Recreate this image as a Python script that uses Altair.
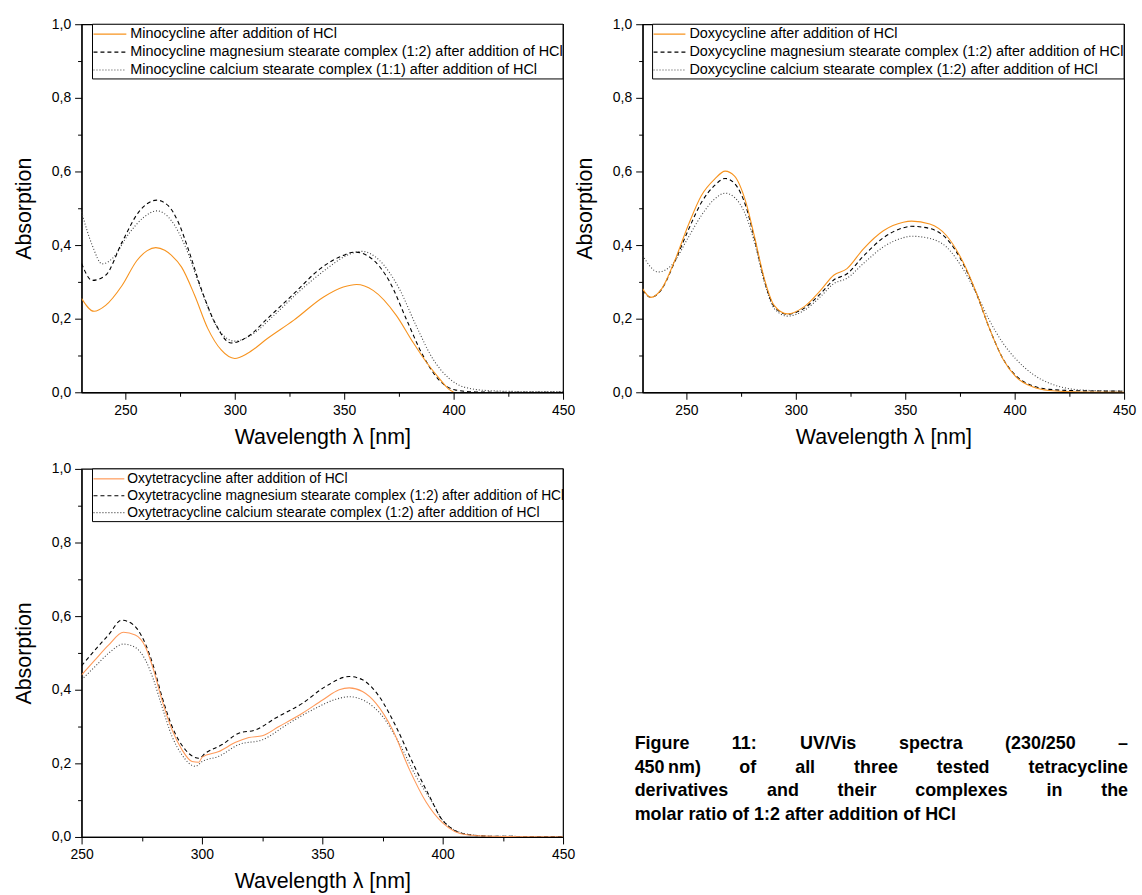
import altair as alt
import pandas as pd

FONT = "Liberation Sans"

# ---------------- data ----------------
# Panel 1: Minocycline
mino_hcl_wl = [230, 235.7, 241, 248.5, 255.3, 260, 263.9, 268, 271.1, 275.7, 281.7, 287.7, 293.8, 300,
               305.9, 314.9, 327, 340.6, 349.6, 355.7, 363.2, 373.8, 381.3, 387.4, 393.4, 397.9, 400]
mino_hcl = [0.255, 0.220, 0.236, 0.29, 0.358, 0.385, 0.393, 0.386, 0.372, 0.340, 0.263, 0.173, 0.115, 0.092,
            0.106, 0.146, 0.196, 0.259, 0.286, 0.293, 0.277, 0.209, 0.137, 0.083, 0.038, 0.008, 0.0]
mino_mg_wl = [230, 234.9, 241, 248.5, 256, 264.3, 269.6, 274.2, 278.7, 284.7, 290.8, 298.3, 305.9, 314.9,
              327, 339.1, 349.6, 354.9, 361.7, 370.8, 378.3, 385.9, 393.4, 401, 410, 425, 450]
mino_mg = [0.35, 0.304, 0.318, 0.408, 0.489, 0.522, 0.507, 0.462, 0.390, 0.281, 0.191, 0.134, 0.151, 0.200,
           0.268, 0.336, 0.372, 0.381, 0.367, 0.300, 0.200, 0.101, 0.033, 0.006, 0.001, 0.0, 0.0]
mino_ca_wl = [230, 234.9, 239.4, 244, 251.5, 258.3, 264.3, 271.1, 277.2, 284.7, 292.3, 300, 307.4, 317.9,
              330, 342.1, 351.2, 357.9, 366.2, 375.2, 382.8, 390.4, 397.9, 405.5, 417.6, 435, 450]
mino_ca = [0.49, 0.399, 0.349, 0.363, 0.430, 0.475, 0.493, 0.466, 0.399, 0.277, 0.173, 0.139, 0.155, 0.209,
           0.277, 0.336, 0.372, 0.383, 0.358, 0.281, 0.182, 0.092, 0.038, 0.013, 0.004, 0.002, 0.002]

# Panel 2: Doxycycline
doxy_wl = [230, 233.7, 238.7, 244.7, 250.8, 256.8, 262.9, 267.7, 271.9, 277.2, 281, 285.6, 290.1, 296.2,
           303.7, 311.3, 317.3, 323.4, 330.9, 340, 349.1, 352.9, 361.2, 368.8, 376.4, 382.4, 388.5, 394.5,
           400.6, 408.1, 415.7, 430.8, 450]
doxy_hcl = [0.281, 0.258, 0.281, 0.358, 0.453, 0.534, 0.579, 0.601, 0.588, 0.516, 0.426, 0.309, 0.236, 0.213,
            0.232, 0.277, 0.318, 0.336, 0.390, 0.439, 0.462, 0.465, 0.457, 0.426, 0.354, 0.272, 0.173, 0.092,
            0.042, 0.015, 0.005, 0.001, 0.0]
doxy_mg = [0.278, 0.258, 0.28, 0.355, 0.44, 0.515, 0.562, 0.581, 0.568, 0.505, 0.42, 0.305, 0.233, 0.212,
           0.228, 0.268, 0.305, 0.322, 0.37, 0.42, 0.447, 0.451, 0.445, 0.418, 0.35, 0.27, 0.173, 0.093,
           0.045, 0.018, 0.008, 0.004, 0.003]
doxy_ca_wl = [230, 237.1, 243.2, 250.8, 256.8, 262.9, 267.7, 271.9, 277.2, 281, 285.6, 290.1, 296.2, 303.7,
              311.3, 317.3, 323.4, 330.9, 340, 349.1, 352.9, 361.2, 368.8, 376.4, 382.4, 388.5, 394.5, 400.6,
              408.1, 415.7, 423, 430.8, 450]
doxy_ca = [0.372, 0.327, 0.345, 0.42, 0.48, 0.525, 0.541, 0.53, 0.48, 0.41, 0.3, 0.228, 0.207, 0.222,
           0.26, 0.295, 0.31, 0.35, 0.395, 0.42, 0.424, 0.418, 0.395, 0.335, 0.27, 0.195, 0.135, 0.09,
           0.05, 0.025, 0.012, 0.006, 0.003]

# Panel 3: Oxytetracycline
oxy_hcl_wl = [250, 255.6, 261.2, 267.4, 272.3, 276.5, 279.9, 283.4, 287.6, 291.7, 295.9, 298.7, 300.1, 307,
              314, 319.5, 325.1, 332, 341.7, 350.1, 357, 361.2, 366.7, 372.3, 379.2, 386.2, 393.1, 400, 405,
              410, 420, 450]
oxy_hcl = [0.44, 0.481, 0.521, 0.556, 0.549, 0.517, 0.454, 0.372, 0.291, 0.237, 0.205, 0.203, 0.217, 0.232,
           0.257, 0.270, 0.275, 0.300, 0.336, 0.372, 0.400, 0.405, 0.395, 0.363, 0.291, 0.183, 0.095, 0.038,
           0.015, 0.006, 0.002, 0.0]
oxy_mg_wl = [250, 255.6, 261.2, 266.7, 271.6, 275.8, 279.9, 283.4, 287.6, 293.1, 298.7, 301.5, 308.4, 315.3,
             322.3, 330.6, 341.7, 351.4, 361.2, 366.7, 373.7, 380.6, 387.6, 394.5, 400, 410, 420, 450]
oxy_mg = [0.465, 0.508, 0.549, 0.589, 0.576, 0.535, 0.463, 0.381, 0.300, 0.237, 0.214, 0.228, 0.251, 0.282,
          0.291, 0.323, 0.363, 0.409, 0.436, 0.427, 0.381, 0.300, 0.201, 0.111, 0.045, 0.007, 0.002, 0.001]
oxy_ca_wl = [250, 255.6, 261.2, 267.4, 272.3, 276.5, 279.9, 283.4, 287.6, 291.7, 297.3, 300.1, 307, 315.3,
             325.1, 336.2, 347.3, 355.6, 361.2, 368.1, 375.1, 382, 389, 395.9, 400, 410, 420, 450]
oxy_ca = [0.427, 0.463, 0.499, 0.524, 0.515, 0.481, 0.427, 0.354, 0.273, 0.223, 0.192, 0.205, 0.219, 0.251,
          0.264, 0.309, 0.350, 0.374, 0.381, 0.368, 0.327, 0.254, 0.164, 0.092, 0.045, 0.008, 0.002, 0.001]

mino_labels = ["Minocycline after addition of HCl",
               "Minocycline magnesium stearate complex (1:2) after addition of HCl",
               "Minocycline calcium stearate complex (1:1) after addition of HCl"]
doxy_labels = ["Doxycycline after addition of HCl",
               "Doxycycline magnesium stearate complex (1:2) after addition of HCl",
               "Doxycycline calcium stearate complex (1:2) after addition of HCl"]
oxy_labels = ["Oxytetracycline after addition of HCl",
              "Oxytetracycline magnesium stearate complex (1:2) after addition of HCl",
              "Oxytetracycline calcium stearate complex (1:2) after addition of HCl"]

x_ticks_a = [250, 275, 300, 325, 350, 375, 400, 425, 450]
y_ticks = [0.0, 0.1, 0.2, 0.3, 0.4, 0.5, 0.6, 0.7, 0.8, 0.9, 1.0]

caption_words = [
    ["Figure", "11:", "UV/Vis", "spectra", "(230/250", "–"],
    ["450\u2009nm)", "of", "all", "three", "tested", "tetracycline"],
    ["derivatives", "and", "their", "complexes", "in", "the"],
    ["molar", "ratio", "of", "1:2", "after", "addition", "of", "HCl"],
]

# ---------------- layout constants ----------------
W, H = 484, 370
ORANGE = "#F7931E"
ORANGE3 = "#FF9A5A"
DOT = "#444444"
one = pd.DataFrame({"k": [0]})


def panel(series, labels, xdomain, orange, leg_fs=14.5, leg_dy=18, leg_h=55, leg_x0=11,
          leg_line=(12, 45), leg_tx=49):
    x_axis = alt.Axis(
        values=x_ticks_a, title="Wavelength λ [nm]",
        labelExpr="datum.value % 50 == 0 ? datum.label : ''",
        tickSize={"condition": {"test": "datum.value % 50 != 0", "value": 4}, "value": 7},
        labelFlush=False, labelOverlap=False, labelPadding=4, titlePadding=9,
    )
    y_axis = alt.Axis(
        values=y_ticks, title="Absorption",
        labelExpr="round(datum.value*10) % 2 == 0 ? replace(format(datum.value, '.1f'), '.', ',') : ''",
        tickSize={"condition": {"test": "round(datum.value*10) % 2 == 1", "value": 4}, "value": 7},
        labelFlush=False, labelOverlap=False, labelPadding=4, titlePadding=16,
    )
    styles = [(orange, None), ("black", [4, 3]), (DOT, [1, 2])]

    def mk(chart_fn, col, dash, **kw):
        if dash is None:
            return chart_fn(color=col, **kw)
        return chart_fn(color=col, strokeDash=dash, **kw)

    layers = []
    for i in [2, 1, 0]:
        wl, vals = series[i]
        df = pd.DataFrame({"wl": wl, "A": vals})
        col, dash = styles[i]
        base = alt.Chart(df)
        layers.append(
            mk(base.mark_line, col, dash, strokeWidth=1.1, interpolate="monotone", clip=True).encode(
                x=alt.X("wl:Q", scale=alt.Scale(domain=xdomain, nice=False, zero=False), axis=x_axis),
                y=alt.Y("A:Q", scale=alt.Scale(domain=[0, 1], nice=False), axis=y_axis),
            )
        )
    # legend box
    layers.append(
        alt.Chart(one).mark_rect(fill="white", stroke="black", strokeWidth=1).encode(
            x=alt.value(leg_x0), x2=alt.value(W), y=alt.value(0), y2=alt.value(leg_h))
    )
    for i, lab in enumerate(labels):
        yy = 10 + leg_dy * i
        col, dash = styles[i]
        layers.append(
            mk(alt.Chart(one).mark_rule, col, dash, strokeWidth=1.2).encode(
                x=alt.value(leg_line[0]), x2=alt.value(leg_line[1]), y=alt.value(yy))
        )
        layers.append(
            alt.Chart(one).mark_text(align="left", baseline="middle", font=FONT, fontSize=leg_fs,
                                     color="black").encode(
                x=alt.value(leg_tx), y=alt.value(yy), text=alt.value(lab))
        )
    return alt.layer(*layers).properties(width=W, height=H)


p1 = panel([(mino_hcl_wl, mino_hcl), (mino_mg_wl, mino_mg), (mino_ca_wl, mino_ca)],
           mino_labels, [230, 450], ORANGE)
p2 = panel([(doxy_wl, doxy_hcl), (doxy_wl, doxy_mg), (doxy_ca_wl, doxy_ca)],
           doxy_labels, [230, 450], ORANGE, leg_x0=10, leg_line=(11, 43), leg_tx=47)
p3 = panel([(oxy_hcl_wl, oxy_hcl), (oxy_mg_wl, oxy_mg), (oxy_ca_wl, oxy_ca)],
           oxy_labels, [250, 450], ORANGE3, leg_fs=13.9, leg_dy=17, leg_h=53,
           leg_line=(12, 43), leg_tx=46)

# ---------------- caption (justified text) ----------------
BOLD_W = {" ": 278, "(": 333, ")": 333, "/": 278, ":": 333, "–": 556, ".": 278, "\u2009": 167,
          "A": 722, "C": 722, "F": 611, "H": 722, "U": 722, "V": 667,
          "a": 556, "b": 611, "c": 556, "d": 611, "e": 556, "f": 333, "g": 611, "h": 611, "i": 278,
          "l": 278, "m": 889, "n": 611, "o": 611, "p": 611, "r": 389, "s": 556, "t": 333, "u": 611,
          "v": 556, "w": 778, "x": 556, "y": 556}
CAP_FS = 18
CAP_LEFT, CAP_RIGHT = -8, 488
CAP_Y0, CAP_DY = 277, 23.5


def text_w(s):
    return sum(BOLD_W.get(ch, 556) for ch in s) / 1000 * CAP_FS


rows = []
for li, words in enumerate(caption_words):
    widths = [text_w(w) for w in words]
    if li < len(caption_words) - 1:
        gap = (CAP_RIGHT - CAP_LEFT - sum(widths)) / (len(words) - 1)
    else:
        gap = text_w(" ")
    xx = CAP_LEFT
    for w, wd in zip(words, widths):
        rows.append({"word": w, "px": xx, "py": CAP_Y0 + CAP_DY * li})
        xx += wd + gap
cap_df = pd.DataFrame(rows)

cap = alt.Chart(cap_df).mark_text(align="left", baseline="middle", font=FONT, fontSize=CAP_FS,
                                  fontWeight="bold", color="black").encode(
    x=alt.X("px:Q", scale=None, axis=None),
    y=alt.Y("py:Q", scale=None, axis=None),
    text="word:N",
).properties(width=W, height=H, view=alt.ViewBackground(strokeOpacity=0))

chart = alt.concat(p1, p2, p3, cap, columns=2, spacing={"row": 77, "column": 80},
                   bounds="flush").properties(
    padding={"left": 12, "top": 14, "right": 5, "bottom": 2},
    background="white",
).configure_view(stroke="black", strokeWidth=1.2).configure_axis(
    labelFont=FONT, labelFontSize=14, labelColor="black",
    titleFont=FONT, titleFontSize=21.5, titleFontWeight="normal", titleColor="black",
    domainColor="black", tickColor="black", domainWidth=1.2, tickWidth=1, grid=False,
)

chart.save("out.html", embed_options={"renderer": "svg", "actions": False})
